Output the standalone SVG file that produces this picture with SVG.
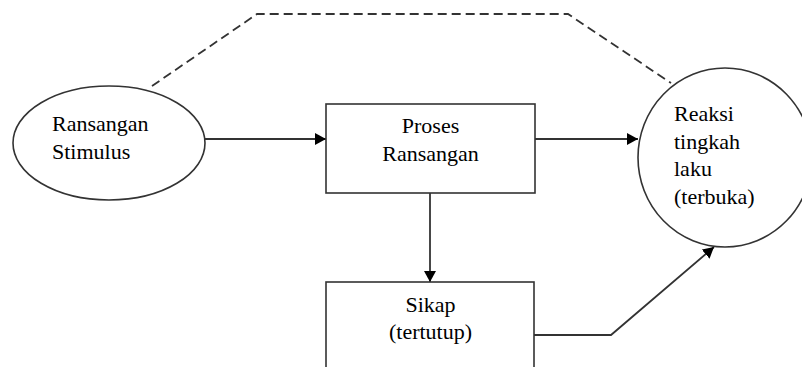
<svg xmlns="http://www.w3.org/2000/svg" width="802" height="367" viewBox="0 0 802 367">
<style>
.shape{fill:#fff;stroke:#333;stroke-width:1.6}
.line{fill:none;stroke:#333;stroke-width:1.8}
.dash{fill:none;stroke:#333;stroke-width:1.8;stroke-dasharray:9 5}
.t{font-family:'Liberation Serif','Times New Roman','DejaVu Serif',serif;font-size:22px;fill:#000}
.c{text-anchor:middle}
</style>
<defs>
<marker id="arr" markerWidth="12" markerHeight="12" refX="11" refY="6" orient="auto" markerUnits="userSpaceOnUse">
<path d="M0,0 L11,6 L0,12 z" fill="#000"/>
</marker>
</defs>
<rect width="802" height="367" fill="#fff"/>
<g id="connectors">
<path class="dash" d="M152,86 L257,14 L568,14 L671,83"/>
<path class="line" d="M205,139 L326,139" marker-end="url(#arr)"/>
<path class="line" d="M535,139 L638,139" marker-end="url(#arr)"/>
<path class="line" d="M430,193 L430,282" marker-end="url(#arr)"/>
<path class="line" d="M534,335 L611,335 L714,247" marker-end="url(#arr)"/>
</g>
<g id="stimulus" class="t" font-family="Liberation Serif, serif">
<ellipse class="shape" cx="109" cy="143" rx="96" ry="57"/>
<text x="52" y="131">Ransangan</text>
<text x="52" y="159">Stimulus</text>
</g>
<g id="proses" class="t" font-family="Liberation Serif, serif">
<rect class="shape" x="326" y="104" width="209" height="89"/>
<text class="c" x="430.5" y="133">Proses</text>
<text class="c" x="430.5" y="161">Ransangan</text>
</g>
<g id="reaksi" class="t" font-family="Liberation Serif, serif">
<ellipse class="shape" cx="725" cy="157.5" rx="87" ry="89.5"/>
<text x="674" y="121">Reaksi</text>
<text x="674" y="148.5">tingkah</text>
<text x="674" y="176">laku</text>
<text x="674" y="204">(terbuka)</text>
</g>
<g id="sikap" class="t" font-family="Liberation Serif, serif">
<rect class="shape" x="326" y="282" width="208" height="100"/>
<text class="c" x="430.5" y="312">Sikap</text>
<text class="c" x="430.5" y="339">(tertutup)</text>
</g>
</svg>
